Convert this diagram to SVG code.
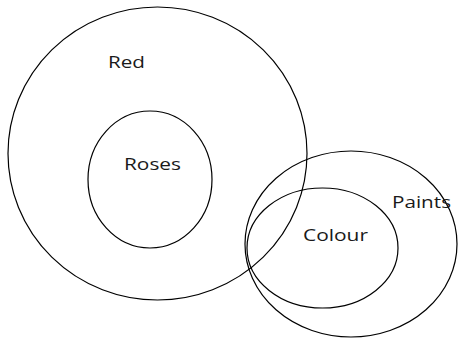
<svg xmlns="http://www.w3.org/2000/svg" width="458" height="338" viewBox="0 0 458 338">
<style>
.set{fill:none;stroke:#000;stroke-width:1.2}
.lbl{font-family:"Open Sans","Noto Sans","Liberation Sans",sans-serif;font-size:17px;fill:#1a1a1a}
</style>
<rect width="458" height="338" fill="#fff"/>
<g id="red"><ellipse class="set" cx="157.5" cy="153.5" rx="149.5" ry="146.5"/><text class="lbl" x="108" y="68" textLength="37" lengthAdjust="spacingAndGlyphs">Red</text></g>
<g id="roses"><ellipse class="set" cx="150" cy="179.5" rx="62" ry="68.5"/><text class="lbl" x="124" y="170" textLength="57" lengthAdjust="spacingAndGlyphs">Roses</text></g>
<g id="paints"><ellipse class="set" cx="351" cy="244" rx="106" ry="93"/><text class="lbl" x="392" y="208" textLength="59" lengthAdjust="spacingAndGlyphs">Paints</text></g>
<g id="colour"><ellipse class="set" cx="322.5" cy="248" rx="75.5" ry="60"/><text class="lbl" x="303" y="241" textLength="65" lengthAdjust="spacingAndGlyphs">Colour</text></g>
<g id="connectors"/>
</svg>
